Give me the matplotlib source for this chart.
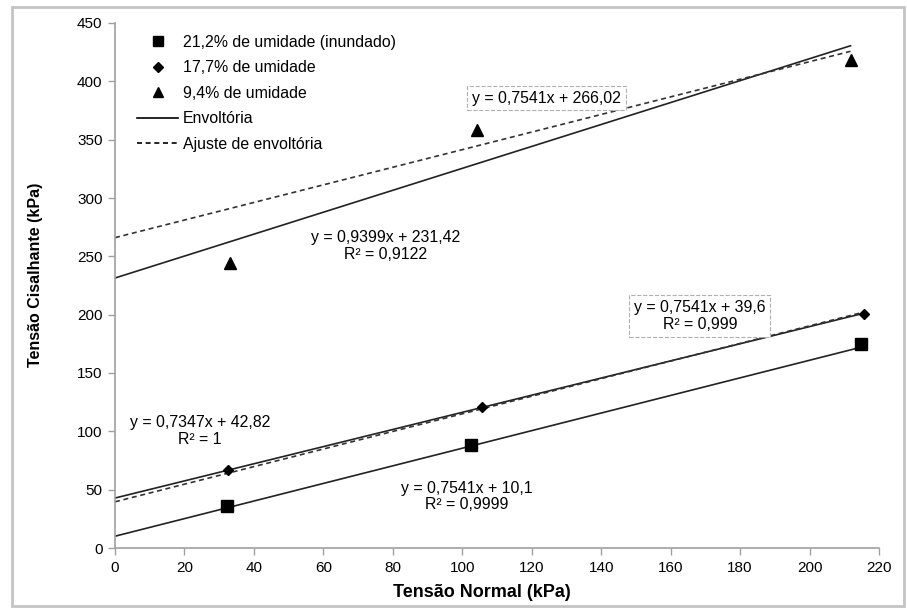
import matplotlib
matplotlib.use("Agg")
import matplotlib.pyplot as plt
from matplotlib.lines import Line2D
from matplotlib.patches import Rectangle
import numpy as np

plt.rcParams['font.family'] = ['Liberation Sans', 'DejaVu Sans']

# Data
x_sq = [32.2, 102.5, 214.9]
y_sq = [36, 88.5, 175]
x_di = [32.5, 105.8, 215.6]
y_di = [66.5, 121, 201]
x_tr = [33, 104.3, 211.8]
y_tr = [244, 358, 418]

# Fits (slope, intercept)
env_sq = (0.7541, 10.1)
env_di = (0.7347, 42.82)
fit_di = (0.7541, 39.6)
env_tr = (0.9399, 231.42)
fit_tr = (0.7541, 266.02)

series_labels = ["21,2% de umidade (inundado)", "17,7% de umidade", "9,4% de umidade"]
line_labels = ["Envoltória", "Ajuste de envoltória"]
xticks = list(range(0, 221, 20))
yticks = list(range(0, 451, 50))

DASH = (0, (3, 2.2))

fig = plt.figure(figsize=(9.07, 6.09), dpi=100)
ax = fig.add_axes([115/907, 61/609, (879-115)/907, (548-23)/609])

def line(coef, xmax, dashed):
    xs = np.array([0, xmax])
    if dashed:
        ax.plot(xs, coef[0]*xs + coef[1], color='#333333', lw=1.2, linestyle=DASH)
    else:
        ax.plot(xs, coef[0]*xs + coef[1], color='#222222', lw=1.2, linestyle='-')

line(env_sq, x_sq[-1], False)
line(env_di, x_di[-1], False)
line(fit_di, x_di[-1], True)
line(env_tr, x_tr[-1], False)
line(fit_tr, x_tr[-1], True)

ax.plot(x_sq, y_sq, 's', color='black', ms=8, ls='none')
ax.plot(x_di, y_di, 'D', color='black', ms=5.3, ls='none')
ax.plot(x_tr, y_tr, '^', color='black', ms=8, ls='none')

ax.set_xlim(0, 220)
ax.set_ylim(0, 450)
ax.set_xticks(xticks)
ax.set_yticks(yticks)
ax.tick_params(direction='out', length=5, color='#a0a0a0', labelsize=11, width=1, pad=4)
for s in ['top', 'right']:
    ax.spines[s].set_visible(False)
for s in ['left', 'bottom']:
    ax.spines[s].set_color('#a0a0a0')
    ax.spines[s].set_linewidth(1.2)

ax.set_xlabel("Tensão Normal (kPa)", fontsize=13, fontweight='bold')
ax.xaxis.set_label_coords((482-115)/764, -0.068)
ax.set_ylabel("Tensão Cisalhante (kPa)", fontsize=11.5, fontweight='bold')
ax.yaxis.set_label_coords(-0.094, (548-275)/525)

fs = 11.4
ls_ = 1.15
ax.text(78, 259, "y = 0,9399x + 231,42\nR² = 0,9122", ha='center', va='center', fontsize=fs, linespacing=ls_)
ax.text(124.2, 385.7, "y = 0,7541x + 266,02", ha='center', va='center', fontsize=fs,
        bbox=dict(boxstyle='square,pad=0.3', fc='white', ec='#b0b0b0', ls='--', lw=0.8))
ax.text(24.5, 100.3, "y = 0,7347x + 42,82\nR² = 1", ha='center', va='center', fontsize=fs, linespacing=ls_)
ax.text(101.4, 44.1, "y = 0,7541x + 10,1\nR² = 0,9999", ha='center', va='center', fontsize=fs, linespacing=ls_)
ax.text(168.4, 198.9, "y = 0,7541x + 39,6\nR² = 0,999", ha='center', va='center', fontsize=fs, linespacing=ls_,
        bbox=dict(boxstyle='square,pad=0.3', fc='white', ec='#b0b0b0', ls='--', lw=0.8))

handles = [
    Line2D([], [], marker='s', color='black', ls='none', ms=7),
    Line2D([], [], marker='D', color='black', ls='none', ms=5),
    Line2D([], [], marker='^', color='black', ls='none', ms=7.5),
    Line2D([], [], color='black', lw=1.2, ls='-'),
    Line2D([], [], color='black', lw=1.2, ls=DASH),
]
leg = ax.legend(handles, series_labels + line_labels, loc='upper left',
                bbox_to_anchor=((137-115)/764, 1 - 12/525),
                frameon=False, fontsize=fs, handlelength=2.6, handletextpad=0.3, labelspacing=0.66,
                borderaxespad=0, borderpad=0)

fig.patches.append(Rectangle((12/907, 3/609), (904-12)/907, (602-3)/609, transform=fig.transFigure,
                             fill=False, ec='#c4c4c4', lw=2))

fig.savefig("out.png", dpi=100)
